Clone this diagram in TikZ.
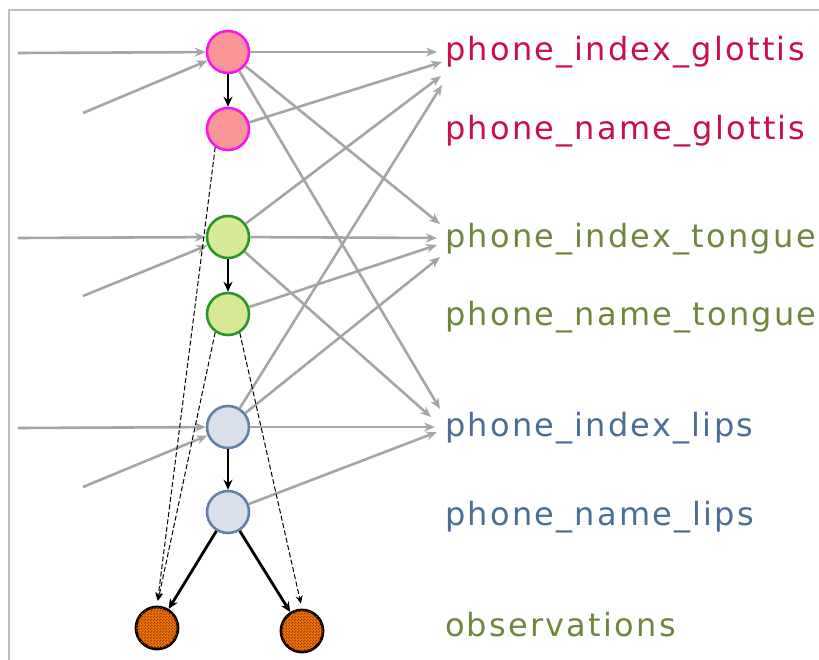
\documentclass[tikz,border=0pt]{standalone}
\usepackage{fontspec}
\newfontfamily\labelfont[LetterSpace=7]{DejaVu Sans}
\usetikzlibrary{arrows.meta,calc,patterns}
\definecolor{glottisfill}{RGB}{250,150,152}
\definecolor{glottisline}{RGB}{250,20,240}
\definecolor{glottistext}{RGB}{200,15,70}
\definecolor{tonguefill}{RGB}{214,234,150}
\definecolor{tongueline}{RGB}{40,150,40}
\definecolor{tonguetext}{RGB}{110,135,60}
\definecolor{lipsfill}{RGB}{216,222,234}
\definecolor{lipsline}{RGB}{100,130,165}
\definecolor{lipstext}{RGB}{75,110,150}
\definecolor{obsfill}{RGB}{232,122,0}
\definecolor{obsdark}{RGB}{175,55,10}
\definecolor{feedgray}{RGB}{165,165,165}
\definecolor{framegray}{RGB}{190,190,190}

% a finer checkerboard than the library one
\pgfdeclarepatternformonly{finecheck}{\pgfpointorigin}{\pgfqpoint{3pt}{3pt}}{\pgfqpoint{3pt}{3pt}}{%
  \pgfpathrectangle{\pgfpointorigin}{\pgfqpoint{1.55pt}{1.55pt}}%
  \pgfpathrectangle{\pgfqpoint{1.5pt}{1.5pt}}{\pgfqpoint{1.55pt}{1.55pt}}%
  \pgfusepath{fill}}

\tikzset{
  var/.style={circle,minimum size=42pt,inner sep=0pt,line width=2.6pt},
  glottis/.style={var,draw=glottisline,fill=glottisfill},
  tongue/.style={var,draw=tongueline,fill=tonguefill},
  lips/.style={var,draw=lipsline,fill=lipsfill},
  obs/.style={var,draw=black,line width=2.8pt,fill=obsfill,
    postaction={pattern=finecheck,pattern color=obsdark}},
  lbl/.style={anchor=base west,inner sep=0pt,font=\labelfont\fontsize{32}{38}\selectfont},
  feed/.style={draw=feedgray,line width=2.6pt,-{Stealth[length=11pt,width=9pt]}},
  dep/.style={black,line width=2.8pt,-{Stealth[length=10pt,width=9pt]}},
  obsdep/.style={black,line width=1pt,dash pattern=on 5pt off 2.5pt,
    shorten >=5pt,-{Stealth[length=8pt,width=7pt]}},
}

\begin{document}
\begin{tikzpicture}[x=1pt,y=-1pt]
  \useasboundingbox (0,0) rectangle (819,660);
  \draw[framegray,line width=1.2pt] (9,660) -- (9,10) -- (819,10);

  % hidden variables, one pair per articulator
  \node[glottis] (G1) at (228,52) {};
  \node[glottis] (G2) at (228,129) {};
  \node[tongue]  (T1) at (228,237) {};
  \node[tongue]  (T2) at (228,314) {};
  \node[lips]    (L1) at (228,427) {};
  \node[lips]    (L2) at (228,512) {};
  \node[obs]     (O1) at (157,628) {};
  \node[obs]     (O2) at (302,631) {};

  % labels, placed on their baselines
  \node[lbl,glottistext] (ig) at (445,61)  {phone\_index\_glottis};
  \node[lbl,glottistext] (ng) at (445,140) {phone\_name\_glottis};
  \node[lbl,tonguetext]  (it) at (445,248) {phone\_index\_tongue};
  \node[lbl,tonguetext]  (nt) at (445,325) {phone\_name\_tongue};
  \node[lbl,lipstext]    (il) at (445,436) {phone\_index\_lips};
  \node[lbl,lipstext]    (nl) at (445,525) {phone\_name\_lips};
  \node[lbl,tonguetext]  (ob) at (445,636) {observations};

  % inputs from the previous slice
  \coordinate (hG) at (18,53);  \coordinate (dG) at (83,113);
  \coordinate (hT) at (18,238); \coordinate (dT) at (83,296);
  \coordinate (hL) at (18,428); \coordinate (dL) at (83,487);
  \foreach \v in {G,T,L} {
    \draw[feed] (h\v) -- (\v1);
    \draw[feed] (d\v) -- (\v1);
  }

  % into the label column
  \draw[feed] (G1) -- ($(ig.base west)+(-8,-9)$);
  \draw[feed] (G2) -- ($(ig.base west)+(-3,1)$);
  \draw[feed] (T1) -- ($(ig.base west)+(-4,15)$);
  \draw[feed] (L1) -- ($(ig.base west)+(-3,24)$);
  \draw[feed] (G1) -- ($(it.base west)+(-5,-24)$);
  \draw[feed] (T1) -- ($(it.base west)+(-8,-10)$);
  \draw[feed] (T2) -- ($(it.base west)+(-8,-3)$);
  \draw[feed] (L1) -- ($(it.base west)+(-5,9)$);
  \draw[feed] (G1) -- ($(il.base west)+(-5,-27)$);
  \draw[feed] (T1) -- ($(il.base west)+(-14,-19)$);
  \draw[feed] (L1) -- ($(il.base west)+(-10,-9)$);
  \draw[feed] (L2) -- ($(il.base west)+(-8,-4)$);

  % index -> name, name -> observations
  \draw[dep] (G1) -- (G2);
  \draw[dep] (T1) -- (T2);
  \draw[dep] (L1) -- (L2);
  \draw[dep] (L2) -- (O1);
  \draw[dep] (L2) -- (O2);

  \draw[obsdep] (G2.235) -- (O1.north);
  \draw[obsdep] (T2.235) -- (O1.north);
  \draw[obsdep] (T2.302) -- (O2.north);
\end{tikzpicture}
\end{document}
